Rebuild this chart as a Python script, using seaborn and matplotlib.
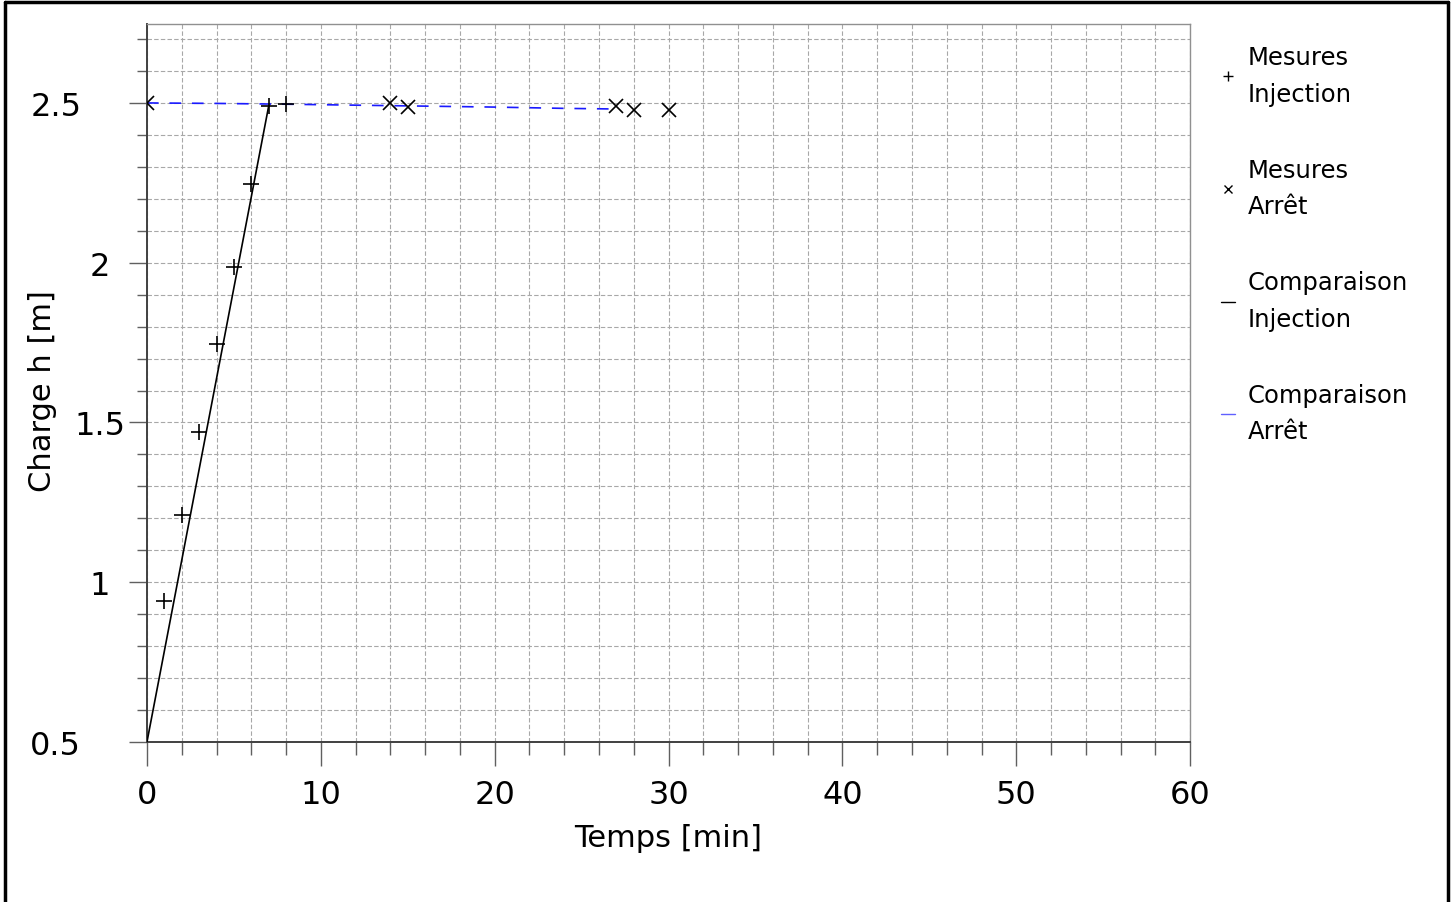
import matplotlib
matplotlib.use("Agg")
import matplotlib.pyplot as plt
from matplotlib.lines import Line2D
from matplotlib.ticker import MultipleLocator, FuncFormatter
from matplotlib.transforms import ScaledTranslation
import seaborn as sns
import pandas as pd

# Measured head during injection
t_inj = [1, 2, 3, 4, 5, 6, 7, 8]
h_inj = [0.94, 1.21, 1.47, 1.746, 1.987, 2.246, 2.49, 2.496]

# Measured head after the pump stops
t_arr = [0, 14, 15, 27, 28, 30]
h_arr = [2.50, 2.50, 2.488, 2.489, 2.478, 2.478]

# Model curves
t_mod_inj = [0, 7]
h_mod_inj = [0.5, 2.49]
t_mod_arr = [0, 4, 8, 12, 16, 20, 24, 27]
h_mod_arr = [2.50, 2.4985, 2.496, 2.493, 2.490, 2.487, 2.483, 2.481]

x_ticks = [0, 10, 20, 30, 40, 50, 60]
y_ticks = [0.5, 1, 1.5, 2, 2.5]

sns.set_style("white")
plt.rcParams["font.family"] = ["DejaVu Sans"]
plt.rcParams["text.color"] = "black"
plt.rcParams["axes.labelcolor"] = "black"

fig = plt.figure(figsize=(14.55, 9.03), dpi=100)
ax = fig.add_axes([0.101, 0.1772, 0.717, 0.7951])

df_mi = pd.DataFrame({"t": t_mod_inj, "h": h_mod_inj})
df_ma = pd.DataFrame({"t": t_mod_arr, "h": h_mod_arr})

sns.lineplot(data=df_mi, x="t", y="h", ax=ax, color="black", lw=1.2,
             legend=False, zorder=3)
sns.lineplot(data=df_ma, x="t", y="h", ax=ax, color="#1a1aff", lw=1.2,
             legend=False, zorder=3)
ax.lines[-1].set_dashes((7, 6.5))
ax.plot(t_inj, h_inj, ls="none", marker="+", ms=11, mew=1.2, color="black",
        zorder=4)
ax.plot(t_arr, h_arr, ls="none", marker="x", ms=10, mew=1.2, color="black",
        zorder=4)

ax.set_xlim(0, 60)
ax.set_ylim(0.5, 2.747)
ax.set_xticks(x_ticks)
ax.set_yticks(y_ticks)
ax.xaxis.set_minor_locator(MultipleLocator(2))
ax.yaxis.set_minor_locator(MultipleLocator(0.1))
ax.yaxis.set_major_formatter(FuncFormatter(lambda v, p: f"{v:g}"))

ax.grid(which="both", color="#a8a8a8", ls=(0, (4, 2)), lw=0.8, zorder=0)
ax.set_axisbelow(True)

ax.tick_params(axis="both", which="both", colors="#606060",
               labelcolor="black", width=1, direction="out")
ax.tick_params(axis="both", which="major", labelsize=23)
ax.tick_params(axis="x", which="major", length=17, pad=10, bottom=True)
ax.tick_params(axis="x", which="minor", length=9, bottom=True)
ax.tick_params(axis="y", which="major", length=13, pad=21, left=True)
ax.tick_params(axis="y", which="minor", length=7, left=True)

# y tick labels are centred; the end labels sit further left
for lab, v in zip(ax.get_yticklabels(), y_ticks):
    lab.set_horizontalalignment("center")
    if v in (0.5, 2.5):
        lab.set_transform(lab.get_transform()
                          + ScaledTranslation(-0.44, 0, fig.dpi_scale_trans))

for s in ["left", "bottom"]:
    ax.spines[s].set_color("#404040")
    ax.spines[s].set_linewidth(1.4)
for s in ["top", "right"]:
    ax.spines[s].set_color("#909090")
    ax.spines[s].set_linewidth(1.0)

ax.set_xlabel("Temps [min]", fontsize=22, labelpad=9)
ax.set_ylabel("Charge h [m]", fontsize=22)
ax.yaxis.set_label_coords(-0.086, 0.49)

labels = ["Mesures\nInjection", "Mesures\nArrêt",
          "Comparaison\nInjection", "Comparaison\nArrêt"]
leg_handles = [
    Line2D([], [], ls="none", marker="+", ms=7, mew=1, color="black"),
    Line2D([], [], ls="none", marker="x", ms=6, mew=1, color="black"),
    Line2D([], [], color="black", lw=1),
    Line2D([], [], color="#6060ff", lw=1),
]
leg = ax.legend(leg_handles, labels, loc="upper left",
                bbox_to_anchor=(1.02, 0.984), frameon=False, fontsize=17.5,
                handlelength=0.6, handletextpad=0.5, labelspacing=2.15,
                borderaxespad=0)
for t in leg.get_texts():
    t.set_linespacing(1.65)

# Frame around the figure (left, top, right)
for xs, ys in [([0.0035, 0.0035], [0, 0.9967]),
               ([0.0035, 0.9955], [0.9967, 0.9967]),
               ([0.9955, 0.9955], [0, 0.9967])]:
    fig.add_artist(Line2D(xs, ys, transform=fig.transFigure,
                          color="black", lw=2.5))

fig.savefig("out.png", dpi=100)
